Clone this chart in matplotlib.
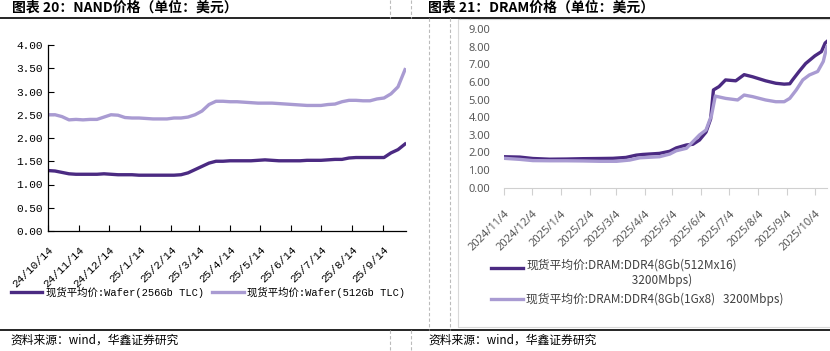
import numpy as np
import pandas as pd
import matplotlib
matplotlib.use('Agg')
from matplotlib import pyplot as plt
from matplotlib.lines import Line2D
from matplotlib.patches import Rectangle

# NAND wafer spot prices, weekly (USD)
nand_dates = pd.date_range('2024-10-14', periods=52, freq='7D')
nand_256 = [1.30, 1.29, 1.26, 1.23, 1.22, 1.22, 1.22, 1.22, 1.23, 1.22,
            1.21, 1.21, 1.21, 1.20, 1.20, 1.20, 1.20, 1.20, 1.20, 1.21,
            1.25, 1.32, 1.39, 1.46, 1.50, 1.50, 1.51, 1.51, 1.51, 1.51,
            1.52, 1.53, 1.52, 1.51, 1.51, 1.51, 1.51, 1.52, 1.52, 1.52,
            1.53, 1.54, 1.54, 1.57, 1.58, 1.58, 1.58, 1.58, 1.58, 1.68,
            1.75, 1.87]
nand_512 = [2.50, 2.50, 2.46, 2.39, 2.40, 2.39, 2.40, 2.40, 2.45, 2.50,
            2.49, 2.44, 2.43, 2.43, 2.42, 2.41, 2.41, 2.41, 2.43, 2.43,
            2.45, 2.50, 2.58, 2.72, 2.79, 2.79, 2.78, 2.78, 2.77, 2.76,
            2.75, 2.75, 2.75, 2.74, 2.73, 2.72, 2.71, 2.70, 2.70, 2.70,
            2.72, 2.73, 2.78, 2.81, 2.81, 2.80, 2.80, 2.84, 2.86, 2.95,
            3.10, 3.47]
nand_ticks = ['24/10/14', '24/11/14', '24/12/14', '25/1/14', '25/2/14', '25/3/14',
              '25/4/14', '25/5/14', '25/6/14', '25/7/14', '25/8/14', '25/9/14']
nand_names = ['现货平均价:Wafer(256Gb TLC)', '现货平均价:Wafer(512Gb TLC)']

# DRAM DDR4 spot prices (USD)
dram_a_dates = ['2024-11-04', '2024-11-21', '2024-12-05', '2024-12-23', '2025-01-10',
                '2025-01-28', '2025-02-15', '2025-03-01', '2025-03-15', '2025-03-26',
                '2025-04-02', '2025-04-20', '2025-05-01', '2025-05-08', '2025-05-19',
                '2025-05-26', '2025-06-02', '2025-06-09', '2025-06-14', '2025-06-17',
                '2025-06-23', '2025-06-30', '2025-07-11', '2025-07-20', '2025-07-29',
                '2025-08-12', '2025-08-23', '2025-09-01', '2025-09-07', '2025-09-10',
                '2025-09-17', '2025-09-24', '2025-10-04', '2025-10-11', '2025-10-15',
                '2025-10-17']
dram_a = [1.75, 1.73, 1.65, 1.61, 1.62, 1.64, 1.65, 1.66, 1.71, 1.84,
          1.88, 1.94, 2.06, 2.25, 2.42, 2.46, 2.70, 3.15, 3.90, 5.55,
          5.74, 6.12, 6.07, 6.42, 6.30, 6.07, 5.93, 5.88, 5.90, 6.12,
          6.60, 7.05, 7.49, 7.73, 8.22, 8.31]
dram_b_dates = ['2024-11-04', '2024-11-21', '2024-12-05', '2024-12-23', '2025-01-10',
                '2025-01-28', '2025-02-15', '2025-03-05', '2025-03-19', '2025-03-30',
                '2025-04-20', '2025-05-01', '2025-05-08', '2025-05-19', '2025-05-26',
                '2025-06-02', '2025-06-09', '2025-06-15', '2025-06-19', '2025-06-30',
                '2025-07-13', '2025-07-20', '2025-07-29', '2025-08-12', '2025-08-23',
                '2025-09-01', '2025-09-07', '2025-09-14', '2025-09-21', '2025-09-28',
                '2025-10-07', '2025-10-13', '2025-10-16', '2025-10-17']
dram_b = [1.66, 1.60, 1.53, 1.52, 1.52, 1.51, 1.49, 1.49, 1.56, 1.69,
          1.75, 1.90, 2.09, 2.23, 2.61, 2.99, 3.27, 4.12, 5.20, 5.07,
          4.98, 5.26, 5.17, 4.98, 4.88, 4.88, 5.07, 5.55, 6.12, 6.40,
          6.60, 7.17, 7.83, 8.00]
dram_ticks = ['2024/11/4', '2024/12/4', '2025/1/4', '2025/2/4', '2025/3/4', '2025/4/4',
              '2025/5/4', '2025/6/4', '2025/7/4', '2025/8/4', '2025/9/4', '2025/10/4']
dram_names = ['现货平均价:DRAM:DDR4(8Gb(512Mx16)\n' + '\u3000' * 9 + '3200Mbps)',
              '现货平均价:DRAM:DDR4(8Gb(1Gx8)   3200Mbps)']

dark = '#4b2a82'
light = '#a99bd2'
W, H = 830, 351
mono = ['Liberation Mono', 'Noto Sans CJK SC']
cjk = ['Noto Sans CJK SC', 'DejaVu Sans']

fig = plt.figure(figsize=(W / 100, H / 100), dpi=100)

# ---- left: NAND
ax1 = fig.add_axes([48 / W, 1 - 231 / H, (406 - 48) / W, (231 - 45) / H])
ax1.plot(nand_dates, nand_256, color=dark, lw=2.4, label=nand_names[0])
ax1.plot(nand_dates, nand_512, color=light, lw=2.4, label=nand_names[1])
ax1.set_ylim(0, 4)
ax1.set_yticks(np.arange(0, 4.01, 0.5))
ax1.set_yticklabels(['%.2f' % v for v in np.arange(0, 4.01, 0.5)], family=mono, fontsize=8)
ax1.set_xlim(nand_dates[0], pd.Timestamp('2025-10-07'))
ax1.set_xticks([pd.to_datetime(t, format='%y/%m/%d') for t in nand_ticks])
ax1.set_xticklabels(nand_ticks, rotation=45, ha='right', rotation_mode='anchor',
                    family=mono, fontsize=8)
ax1.tick_params(direction='in', length=4, width=0.8, colors='black')
ax1.tick_params(axis='x', pad=10)
ax1.spines[['top', 'right']].set_visible(False)
for s in ['left', 'bottom']:
    ax1.spines[s].set_linewidth(0.9)

fig.legend(ax1.get_lines(), nand_names, loc='center left',
           bbox_to_anchor=(11 / W, 1 - 292 / H), ncol=2, frameon=False,
           handlelength=3.0, handletextpad=0.35, columnspacing=0.8,
           borderpad=0, borderaxespad=0, prop={'family': mono, 'size': 7.5})

# ---- right: DRAM
ax2 = fig.add_axes([504 / W, 1 - 187.5 / H, (827 - 504) / W, (187.5 - 29.3) / H])
ax2.plot(pd.to_datetime(dram_a_dates), dram_a, color=dark, lw=2.4, label=dram_names[0])
ax2.plot(pd.to_datetime(dram_b_dates), dram_b, color=light, lw=2.4, label=dram_names[1])
ax2.set_ylim(0, 9)
ax2.set_yticks(range(10))
ax2.set_yticklabels(['%.2f' % v for v in range(10)], family='Noto Sans', fontsize=8,
                    color='#595959')
ax2.set_xlim(pd.Timestamp('2024-11-04'), pd.Timestamp('2025-10-17'))
ax2.set_xticks([pd.to_datetime(t, format='%Y/%m/%d') for t in dram_ticks])
ax2.set_xticklabels(dram_ticks, rotation=45, ha='right', rotation_mode='anchor',
                    family='Noto Sans', fontsize=8, color='#595959')
ax2.tick_params(axis='y', length=0, pad=10)
ax2.tick_params(axis='x', length=5, color='#d0d0d0', pad=10)
for s in ['top', 'right', 'left']:
    ax2.spines[s].set_visible(False)
ax2.spines['bottom'].set_color('#d0d0d0')

leg2 = fig.legend(ax2.get_lines(), dram_names, loc='upper left',
                  bbox_to_anchor=(491 / W, 1 - 259 / H), ncol=1, frameon=False,
                  handlelength=2.7, handletextpad=0.3, labelspacing=0.45,
                  borderpad=0, borderaxespad=0, prop={'family': cjk, 'size': 8.5})
for t in leg2.get_texts():
    t.set_color('#404040')
# align the wrapped entry's handle with its first text line
h0 = leg2.legend_handles[0]
h0.set_ydata(np.asarray(h0.get_ydata()) + 4.0)

# ---- page furniture
fig.text(12 / W, 1 - 8 / H, '图表 20：NAND价格（单位：美元）', family=cjk, fontsize=10,
         fontweight='bold', va='center')
fig.text(428 / W, 1 - 8 / H, '图表 21：DRAM价格（单位：美元）', family=cjk, fontsize=10,
         fontweight='bold', va='center')
fig.text(10 / W, 1 - 340 / H, '资料来源：wind，华鑫证券研究', family=cjk, fontsize=8.5,
         va='center')
fig.text(428 / W, 1 - 340 / H, '资料来源：wind，华鑫证券研究', family=cjk, fontsize=8.5,
         va='center')

for yy in [18, 330]:
    fig.add_artist(Line2D([0, 1], [1 - yy / H] * 2, color='black', lw=1.2,
                          transform=fig.transFigure))
for xx in [390, 411]:
    for y0, y1 in [(0, 18), (330, 351)]:
        fig.add_artist(Line2D([xx / W] * 2, [1 - y0 / H, 1 - y1 / H], color='#bbbbbb',
                              lw=0.8, ls=(0, (3, 2)), transform=fig.transFigure))
for xx in [429, 450]:
    fig.add_artist(Line2D([xx / W] * 2, [1 - 18 / H, 1 - 330 / H], color='#bbbbbb',
                          lw=0.8, ls=(0, (3, 2)), transform=fig.transFigure))
fig.add_artist(Rectangle((458 / W, 1 - 327 / H), 400 / W, (327 - 19) / H, fill=False,
                         edgecolor='#d9d9d9', lw=0.8, transform=fig.transFigure))

fig.savefig('out.png', dpi=100)
